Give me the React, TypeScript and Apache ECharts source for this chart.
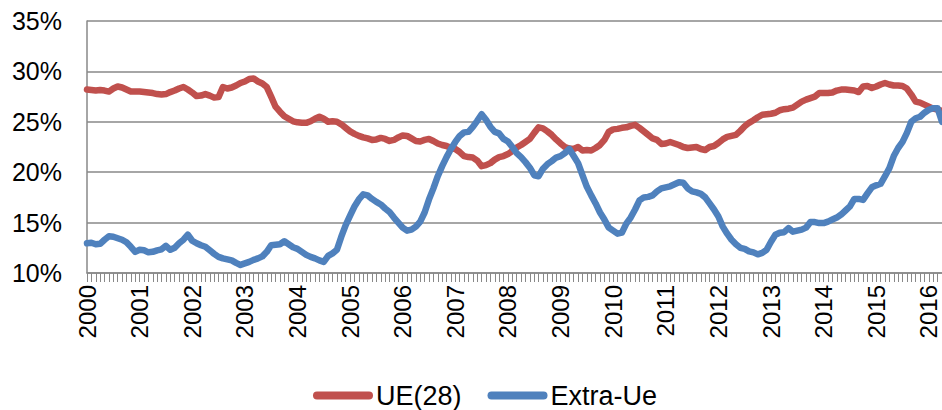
import React, { useEffect, useRef } from "react";
import * as echarts from "echarts";

const startYear = 2000;
const monthCount = 196;

const yTicks = [10, 15, 20, 25, 30, 35];

const ue28 = [
  28.2, 28.15, 28.1, 28.15, 28.1, 28.0, 28.3, 28.5, 28.4, 28.2, 28.0, 28.0,
  28.0, 27.95, 27.9, 27.85, 27.75, 27.7, 27.75, 27.95, 28.1, 28.3, 28.45, 28.2,
  27.9, 27.55, 27.6, 27.75, 27.6, 27.4, 27.45, 28.45, 28.3, 28.4, 28.6, 28.85,
  29.0, 29.25, 29.3, 29.0, 28.8, 28.45, 27.5, 26.5, 26.0, 25.55, 25.3, 25.05,
  24.95, 24.9, 24.9, 25.05, 25.3, 25.5, 25.3, 25.0, 25.05, 25.0, 24.75, 24.4,
  24.05, 23.8, 23.6, 23.45, 23.35, 23.2, 23.25, 23.4, 23.3, 23.1, 23.2, 23.45,
  23.65, 23.6, 23.35, 23.1, 23.05, 23.2, 23.3, 23.1, 22.85, 22.7, 22.6, 22.4,
  22.3, 22.0, 21.6, 21.5, 21.45, 21.15, 20.6, 20.7, 20.9, 21.25, 21.5, 21.6,
  21.8, 22.1, 22.45, 22.7, 23.0, 23.3, 23.9, 24.45, 24.35, 24.05, 23.7, 23.25,
  22.85, 22.5, 22.35, 22.3, 22.5, 22.15, 22.2, 22.15, 22.4, 22.7, 23.2, 24.0,
  24.25, 24.3, 24.4, 24.45, 24.6, 24.7, 24.4, 24.05, 23.7, 23.35, 23.2, 22.8,
  22.85, 23.0, 22.85, 22.7, 22.5, 22.4, 22.45, 22.5, 22.3, 22.2, 22.5, 22.6,
  22.9, 23.25, 23.5, 23.6, 23.7, 24.1, 24.55, 24.9, 25.15, 25.45, 25.7, 25.75,
  25.8, 25.9, 26.15, 26.25, 26.3, 26.4, 26.7, 27.0, 27.2, 27.35, 27.5, 27.85,
  27.85, 27.85, 27.9, 28.1, 28.2, 28.2, 28.15, 28.1, 27.95, 28.5, 28.55, 28.35,
  28.5, 28.7, 28.85, 28.7, 28.6, 28.6, 28.55, 28.3, 27.7, 27.0, 26.9, 26.7,
  26.5, 26.3, 26.2, 26.1,
];

const extraUe = [
  12.95, 13.0, 12.85, 12.9, 13.3, 13.65, 13.6, 13.45, 13.3, 13.05, 12.6, 12.1,
  12.3, 12.25, 12.05, 12.1, 12.25, 12.35, 12.7, 12.3, 12.5, 12.95, 13.3, 13.8,
  13.2, 12.95, 12.75, 12.6, 12.25, 11.9, 11.6, 11.45, 11.35, 11.25, 11.0, 10.8,
  10.95, 11.1, 11.3, 11.45, 11.65, 12.1, 12.75, 12.8, 12.85, 13.15, 12.85, 12.55,
  12.4, 12.1, 11.8, 11.6, 11.45, 11.25, 11.1, 11.7, 11.95, 12.3, 13.6, 14.75,
  15.7, 16.6, 17.3, 17.8, 17.7, 17.35, 17.05, 16.8, 16.4, 16.05, 15.5, 15.0,
  14.5, 14.2, 14.3, 14.6, 15.1, 16.0, 17.3, 18.4, 19.6, 20.6, 21.5, 22.3,
  23.0, 23.6, 23.95, 24.0, 24.5, 25.1, 25.75, 25.2, 24.5, 24.0, 23.85, 23.3,
  23.05, 22.5, 21.9, 21.5, 21.0, 20.45, 19.7, 19.6, 20.35, 20.8, 21.1, 21.45,
  21.6, 21.9, 22.3, 21.6, 20.9, 19.7, 18.55, 17.7, 16.9, 16.0, 15.3, 14.5,
  14.2, 13.9, 14.0, 14.9, 15.5, 16.3, 17.2, 17.5, 17.55, 17.7, 18.1, 18.4,
  18.5, 18.6, 18.8, 19.0, 18.95, 18.4, 18.1, 18.0, 17.85, 17.5, 16.9, 16.3,
  15.6, 14.6, 13.9, 13.3, 12.85, 12.5, 12.4, 12.15, 12.05, 11.85, 12.0, 12.3,
  13.1, 13.8, 14.0, 14.05, 14.45, 14.1, 14.2, 14.3, 14.5, 15.05, 15.05, 14.95,
  14.95, 15.1, 15.3, 15.5, 15.8, 16.2, 16.6, 17.35, 17.35, 17.25, 17.9, 18.5,
  18.7, 18.85, 19.6, 20.4, 21.6, 22.4, 23.0, 23.9, 25.0, 25.35, 25.5, 25.9,
  26.2, 26.35, 26.35, 25.0,
];

const categories: string[] = [];
for (let i = 0; i < monthCount; i++) {
  const y = startYear + Math.floor(i / 12);
  const m = (i % 12) + 1;
  categories.push(`${y}-${m < 10 ? "0" + m : m}`);
}

const RED = "#C0504D";
const BLUE = "#4F81BD";
const GRAY = "#898989";

export default function App() {
  const ref = useRef<HTMLDivElement>(null);
  useEffect(() => {
    document.body.style.margin = "0";
    if (!ref.current) return;
    const chart = echarts.init(ref.current, undefined, { renderer: "svg" });
    const pillIcon =
      "path://M4,0 L56,0 A4,4 0 0 1 56,8 L4,8 A4,4 0 0 1 4,0 Z";
    chart.setOption({
      animation: false,
      backgroundColor: "#ffffff",
      grid: { left: 87, right: 0, top: 21, bottom: 137, containLabel: false },
      legend: {
        left: 308,
        top: 377,
        itemWidth: 60,
        itemHeight: 8,
        itemGap: 26,
        textStyle: {
          fontFamily: "'Liberation Sans', sans-serif",
          fontSize: 27,
          color: "#000",
          padding: [0, 0, 0, -2],
        },
        data: [
          { name: "UE(28)", icon: pillIcon, itemStyle: { color: RED } },
          { name: "Extra-Ue", icon: pillIcon, itemStyle: { color: BLUE } },
        ],
      },
      xAxis: {
        type: "category",
        data: categories,
        boundaryGap: false,
        axisLine: { show: true, lineStyle: { color: GRAY, width: 1.5 } },
        axisTick: {
          show: true,
          interval: 0,
          length: 9,
          lineStyle: { color: GRAY, width: 1 },
        },
        axisLabel: {
          interval: (index: number) => index % 12 === 0,
          rotate: 90,
          margin: 12,
          fontFamily: "'Liberation Sans', sans-serif",
          fontSize: 24,
          color: "#000",
          formatter: (v: string) => v.slice(0, 4),
        },
        splitLine: { show: false },
      },
      yAxis: {
        type: "value",
        min: yTicks[0],
        max: yTicks[yTicks.length - 1],
        interval: 5,
        axisLine: { show: true, lineStyle: { color: GRAY, width: 1.5 } },
        axisTick: { show: false },
        axisLabel: {
          formatter: "{value}%",
          margin: 25,
          fontFamily: "'Liberation Sans', sans-serif",
          fontSize: 25,
          color: "#000",
        },
        splitLine: { show: true, lineStyle: { color: GRAY, width: 1.5 } },
      },
      series: [
        {
          name: "UE(28)",
          type: "line",
          data: ue28,
          showSymbol: false,
          symbol: "none",
          lineStyle: { color: RED, width: 6.5, cap: "round", join: "round" },
          itemStyle: { color: RED },
        },
        {
          name: "Extra-Ue",
          type: "line",
          data: extraUe,
          showSymbol: false,
          symbol: "none",
          lineStyle: { color: BLUE, width: 6.5, cap: "round", join: "round" },
          itemStyle: { color: BLUE },
        },
      ],
    });
    return () => chart.dispose();
  }, []);
  return (
    <div
      ref={ref}
      style={{ position: "absolute", left: 0, top: 0, width: 942, height: 410 }}
    />
  );
}
